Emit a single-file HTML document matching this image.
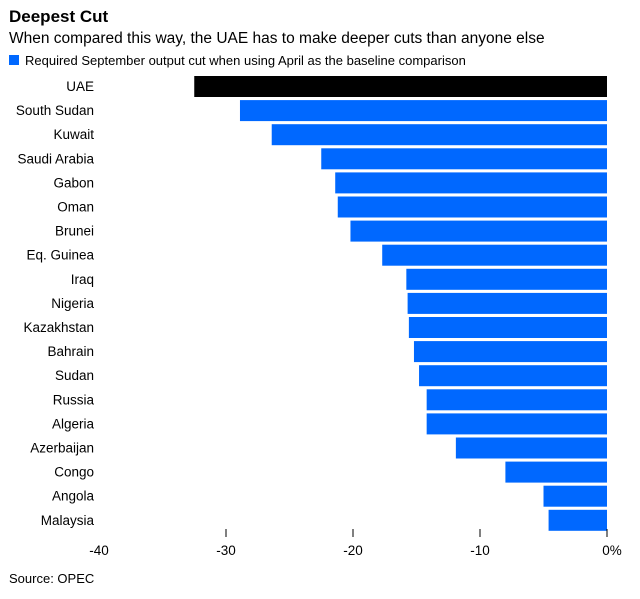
<!DOCTYPE html>
<html><head><meta charset="utf-8"><style>
body{margin:0;background:#fff;font-family:"Liberation Sans",sans-serif;color:#000}
#wrap{position:relative;width:640px;height:594px}
</style></head><body>
<div id="wrap">
<svg width="640" height="594" id="svg">
<text x="9" y="22" font-size="17" font-weight="bold">Deepest Cut</text>
<text x="9" y="43" font-size="15.5">When compared this way, the UAE has to make deeper cuts than anyone else</text>
<rect x="9" y="55" width="10" height="10" fill="#0068ff"/>
<text x="25" y="65" font-size="13">Required September output cut when using April as the baseline comparison</text>
<text x="9" y="583" font-size="13">Source: OPEC</text>
<g id="bars"></g><g id="axis"></g>
</svg>
</div>
<script>
const categories=["UAE","South Sudan","Kuwait","Saudi Arabia","Gabon","Oman","Brunei","Eq. Guinea","Iraq","Nigeria","Kazakhstan","Bahrain","Sudan","Russia","Algeria","Azerbaijan","Congo","Angola","Malaysia"];
const values=[-32.5,-28.9,-26.4,-22.5,-21.4,-21.2,-20.2,-17.7,-15.8,-15.7,-15.6,-15.2,-14.8,-14.2,-14.2,-11.9,-8.0,-5.0,-4.6];
const ticks=[-40,-30,-20,-10,0];
const tickLabels=["-40","-30","-20","-10","0%"];
const NS="http://www.w3.org/2000/svg";
function xs(v){return 607+v*12.7;}
function ys(i){return 76+i*24.1;}
const bars=document.getElementById('bars'),axis=document.getElementById('axis');
categories.forEach((c,i)=>{
 const v=values[i];
 const r=document.createElementNS(NS,'rect');
 r.setAttribute('x',Math.min(xs(v),xs(0)));r.setAttribute('y',ys(i));
 r.setAttribute('width',Math.abs(xs(v)-xs(0)));r.setAttribute('height',21);
 r.setAttribute('fill',i===0?'#000':'#0068ff');
 
 
 bars.appendChild(r);
 const t=document.createElementNS(NS,'text');
 t.setAttribute('x',94);t.setAttribute('y',ys(i)+15);t.setAttribute('text-anchor','end');t.setAttribute('font-size','13.5');
 t.textContent=c;
 
 
 bars.appendChild(t);
});
ticks.forEach((v,i)=>{
 const l=document.createElementNS(NS,'line');
 l.setAttribute('x1',xs(v));l.setAttribute('x2',xs(v));l.setAttribute('y1',529);l.setAttribute('y2',537);
 l.setAttribute('stroke',v===-40?'none':'#000');l.setAttribute('stroke-width',1);
 
 
 axis.appendChild(l);
 const t=document.createElementNS(NS,'text');
 t.setAttribute('x',xs(v)+(v===0?5:0));t.setAttribute('y',555);t.setAttribute('text-anchor','middle');t.setAttribute('font-size','13.5');
 t.textContent=tickLabels[i];
 
 
 axis.appendChild(t);
});
</script>
</body></html>
